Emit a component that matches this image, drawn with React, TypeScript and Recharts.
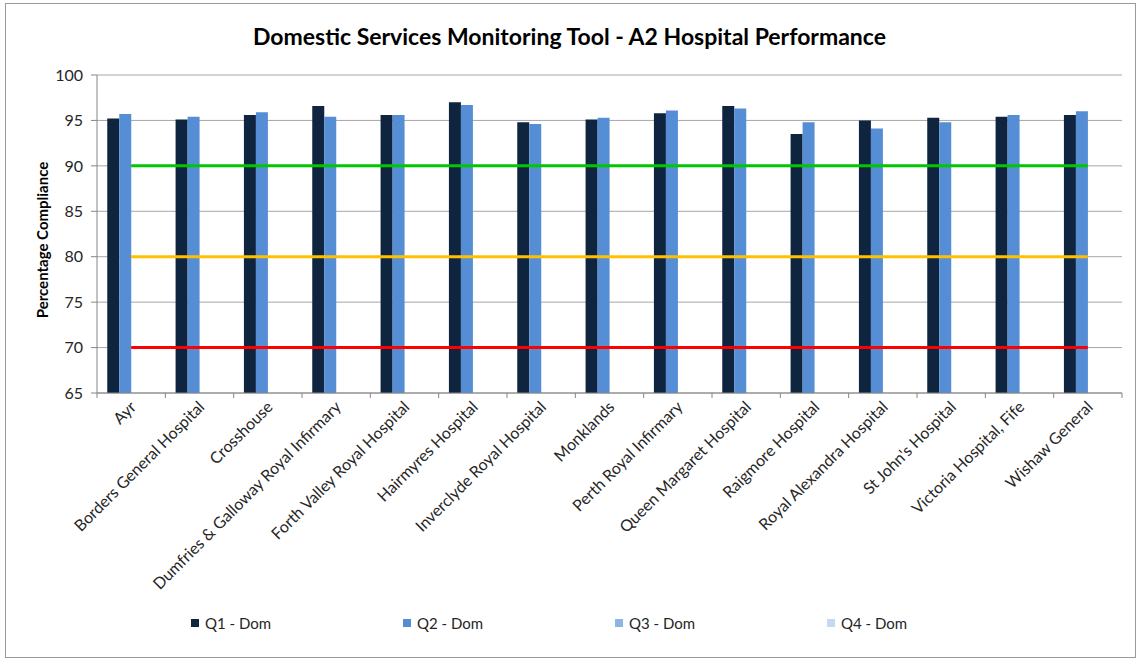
import type { JSX } from 'react';
import { Bar, CartesianGrid, ComposedChart, Line, XAxis, YAxis } from 'recharts';

const hospitals = [
  'Ayr',
  'Borders General Hospital',
  'Crosshouse',
  'Dumfries & Galloway Royal Infirmary',
  'Forth Valley Royal Hospital',
  'Hairmyres Hospital',
  'Inverclyde Royal Hospital',
  'Monklands',
  'Perth Royal Infirmary',
  'Queen Margaret Hospital',
  'Raigmore Hospital',
  'Royal Alexandra Hospital',
  "St John's Hospital",
  'Victoria Hospital, Fife',
  'Wishaw General',
];

const q1Dom = [95.2, 95.1, 95.6, 96.6, 95.6, 97.0, 94.8, 95.1, 95.8, 96.6, 93.5, 95.0, 95.3, 95.4, 95.6];
const q2Dom = [95.7, 95.4, 95.9, 95.4, 95.6, 96.7, 94.6, 95.3, 96.1, 96.3, 94.8, 94.1, 94.8, 95.6, 96.0];
const q3Dom: (number | null)[] = hospitals.map(() => null);
const q4Dom: (number | null)[] = hospitals.map(() => null);

const greenTarget = 90;
const amberTarget = 80;
const redTarget = 70;

const yTicks = [65, 70, 75, 80, 85, 90, 95, 100];

const series = [
  { key: 'q1', name: 'Q1 - Dom', color: '#0f243e' },
  { key: 'q2', name: 'Q2 - Dom', color: '#558ed5' },
  { key: 'q3', name: 'Q3 - Dom', color: '#8db4e2' },
  { key: 'q4', name: 'Q4 - Dom', color: '#c6d9f1' },
];

const data = hospitals.map((name, i) => ({
  name,
  q1: q1Dom[i],
  q2: q2Dom[i],
  q3: q3Dom[i],
  q4: q4Dom[i],
  green: greenTarget,
  amber: amberTarget,
  red: redTarget,
}));

const FONT = 'Lato, "Open Sans", sans-serif';
const W = 1139;
const H = 660;
const PLOT_LEFT = 97;
const PLOT_RIGHT = 1122;
const HALF_BAND = (PLOT_RIGHT - PLOT_LEFT) / hospitals.length / 2;

function HospitalTick(props: any): JSX.Element {
  const { x, y, payload, index } = props;
  return (
    <g>
      <line x1={x - HALF_BAND} y1={y - 5} x2={x - HALF_BAND} y2={y} stroke="#868686" />
      {index === hospitals.length - 1 && (
        <line x1={x + HALF_BAND} y1={y - 5} x2={x + HALF_BAND} y2={y} stroke="#868686" />
      )}
      <text
        x={x + 6}
        y={y + 10}
        textAnchor="end"
        transform={`rotate(-45, ${x + 6}, ${y + 10})`}
        fontSize={16}
        fontFamily={FONT}
        fill="#262626"
      >
        {payload.value}
      </text>
    </g>
  );
}

function YTitle(props: any): JSX.Element {
  const vb = props.viewBox || {};
  const cx = vb.x + 42;
  const cy = vb.y + vb.height / 2 + 6;
  return (
    <text
      x={cx}
      y={cy}
      textAnchor="middle"
      dominantBaseline="central"
      transform={`rotate(-90, ${cx}, ${cy})`}
      fontSize={15}
      fontWeight={700}
      fontFamily={FONT}
      fill="#000"
    >
      Percentage Compliance
    </text>
  );
}

export default function App(): JSX.Element {
  return (
    <div style={{ position: 'absolute', left: 0, top: 0, width: W, height: H, background: '#fff', fontFamily: FONT }}>
      <div
        style={{
          position: 'absolute',
          left: 5,
          top: 3,
          width: 1129,
          height: 653,
          border: '1px solid #9a9a9a',
        }}
      />
      <div
        style={{
          position: 'absolute',
          left: 0,
          top: 22,
          width: W,
          textAlign: 'center',
          fontSize: 23,
          fontWeight: 700,
          color: '#000',
        }}
      >
        Domestic Services Monitoring Tool - A2 Hospital Performance
      </div>
      <div style={{ position: 'absolute', left: 0, top: 0 }}>
        <ComposedChart
          width={W}
          height={H}
          data={data}
          margin={{ top: 75, right: W - PLOT_RIGHT, bottom: 0, left: 0 }}
          barCategoryGap="15%"
          barGap={0}
        >
          <CartesianGrid vertical={false} stroke="#a6a6a6" />
          <XAxis
            dataKey="name"
            interval={0}
            height={267}
            axisLine={{ stroke: '#868686' }}
            tickLine={false}
            tickSize={5}
            tickMargin={0}
            tick={<HospitalTick />}
          />
          <YAxis
            width={PLOT_LEFT}
            domain={[65, 100]}
            ticks={yTicks}
            interval={0}
            axisLine={{ stroke: '#868686' }}
            tickLine={{ stroke: '#868686' }}
            tickSize={6}
            tickMargin={8}
            tick={{ fontSize: 16, fontFamily: FONT, fill: '#262626' }}
            label={<YTitle />}
          />
          {series.map((s) => (
            <Bar key={s.key} dataKey={s.key} name={s.name} fill={s.color} isAnimationActive={false} />
          ))}
          <Line dataKey="green" stroke="#00c800" strokeWidth={3} dot={false} activeDot={false} isAnimationActive={false} legendType="none" />
          <Line dataKey="amber" stroke="#ffc000" strokeWidth={3} dot={false} activeDot={false} isAnimationActive={false} legendType="none" />
          <Line dataKey="red" stroke="#ff0000" strokeWidth={3} dot={false} activeDot={false} isAnimationActive={false} legendType="none" />
        </ComposedChart>
      </div>
      <div style={{ position: 'absolute', left: 191, top: 614, display: 'flex' }}>
        {series.map((s) => (
          <div key={s.key} style={{ width: 212, display: 'flex', alignItems: 'center', fontSize: 15, color: '#262626' }}>
            <span style={{ width: 8, height: 8, background: s.color, marginRight: 6, display: 'inline-block' }} />
            {s.name}
          </div>
        ))}
      </div>
    </div>
  );
}
